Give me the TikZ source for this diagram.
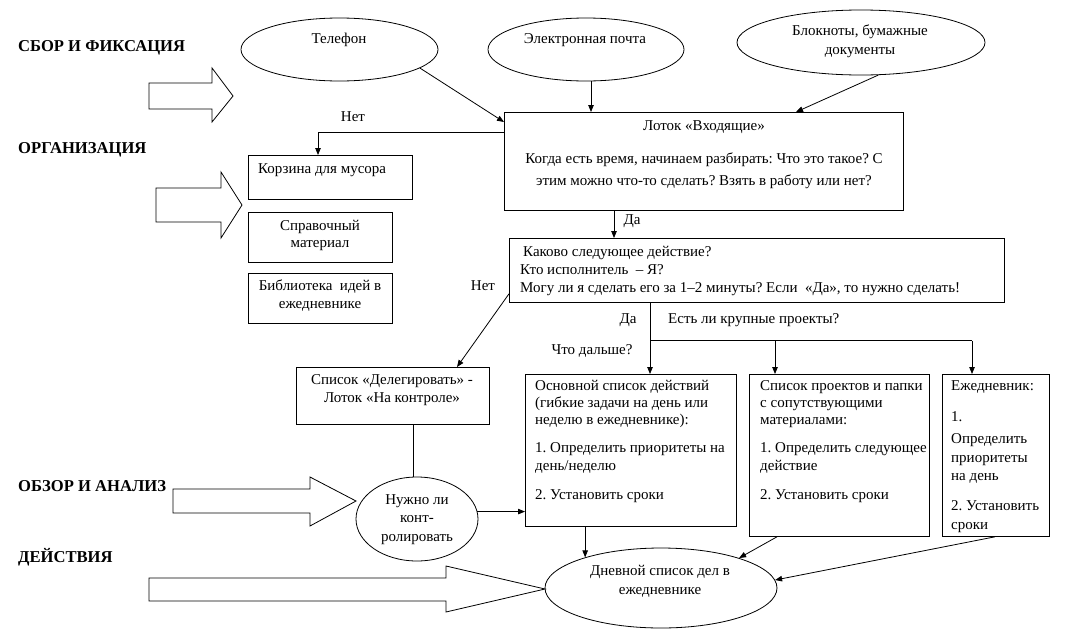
\documentclass[tikz,border=0pt]{standalone}
\usepackage{fontspec}
\setmainfont{Liberation Serif}
\usetikzlibrary{shapes.geometric,arrows.meta,calc}
\frenchspacing
\begin{document}
\begin{tikzpicture}[x=1pt,y=-1pt]
\tikzset{
  ln/.style={line width=0.8pt},
  arr/.style={ln,-{Triangle[length=7pt,width=5.5pt]}},
  box/.style={draw,ln,rectangle,inner sep=0pt,anchor=north west},
  ell/.style={draw,ln,ellipse,inner sep=0pt},
  txt/.style={inner sep=0pt,font=\fontsize{15}{18}\selectfont,text height=0.85em,text depth=0.2em},
  ltxt/.style={txt,anchor=west},
  hdr/.style={inner sep=0pt,anchor=west,font=\fontsize{16.6}{19}\selectfont\bfseries,text height=0.85em,text depth=0.2em},
  blk/.style={draw,ln,fill=white}
}
\useasboundingbox (0,0) rectangle (1065,640);

% headers
\node[hdr] (h1) at (18,48) {СБОР И ФИКСАЦИЯ};
\node[hdr] (h2) at (18,150) {ОРГАНИЗАЦИЯ};
\node[hdr] (h3) at (18,488) {ОБЗОР И АНАЛИЗ};
\node[hdr] (h4) at (18,559) {ДЕЙСТВИЯ};

% block arrows
\draw[blk] (149,83) -- (212,83) -- (212,68) -- (233,96) -- (212,122) -- (212,109) -- (149,109) -- cycle;
\draw[blk] (156,188) -- (221,188) -- (221,172) -- (242,205) -- (221,238) -- (221,222) -- (156,222) -- cycle;
\draw[blk] (173,489) -- (310,489) -- (310,477) -- (356,501) -- (310,526) -- (310,513) -- (173,513) -- cycle;
\draw[blk] (149,578) -- (446,578) -- (446,566) -- (545,589) -- (446,612) -- (446,601) -- (149,601) -- cycle;

% ellipses
\node[ell,minimum width=197pt,minimum height=63pt] (tel) at (339.5,49.5) {};
\node[txt] (tTel) at (339,40) {Телефон};
\node[ell,minimum width=196pt,minimum height=63pt] (mail) at (586,49.5) {};
\node[txt] (tMail) at (585,40) {Электронная почта};
\node[ell,minimum width=248pt,minimum height=65pt] (note) at (861,42.5) {};
\node[txt] (tNote1) at (860,32) {Блокноты, бумажные};
\node[txt] (tNote2) at (860,51) {документы};
\node[ell,minimum width=122pt,minimum height=84pt] (need) at (417,519) {};
\node[txt] (tNeed1) at (417,501) {Нужно ли};
\node[txt] (tNeed2) at (417,519) {конт-};
\node[txt] (tNeed3) at (417,538) {ролировать};
\node[ell,minimum width=232pt,minimum height=80pt] (day) at (661,588) {};
\node[txt] (tDay1) at (660,572) {Дневной список дел в};
\node[txt] (tDay2) at (660,591) {ежедневнике};

% boxes
\node[box,minimum width=399pt,minimum height=98pt] (in) at (504,112) {};
\node[txt] (tIn1) at (704,127) {Лоток «Входящие»};
\node[txt] (tIn2) at (704,160) {Когда есть время, начинаем разбирать: Что это такое? С};
\node[txt] (tIn3) at (704,182) {этим можно что-то сделать? Взять в работу или нет?};

\node[box,minimum width=164pt,minimum height=44pt] (trash) at (248,155) {};
\node[ltxt] (tTrash) at (258,170) {Корзина для мусора};
\node[box,minimum width=144pt,minimum height=50pt] (ref) at (248,212) {};
\node[txt] (tRef1) at (320,227) {Справочный};
\node[txt] (tRef2) at (320,244) {материал};
\node[box,minimum width=144pt,minimum height=50pt] (lib) at (248,273) {};
\node[txt] (tLib1) at (320,287) {Библиотека\ \ идей в};
\node[txt] (tLib2) at (320,305) {ежедневнике};

\node[box,minimum width=495pt,minimum height=64pt] (next) at (509,238) {};
\node[ltxt] (tNext1) at (523,253) {Каково следующее действие?};
\node[ltxt] (tNext2) at (520,271) {Кто исполнитель\ \ – Я?};
\node[ltxt] (tNext3) at (520,289) {Могу ли я сделать его за 1–2 минуты? Если\ \ «Да», то нужно сделать!};

\node[box,minimum width=193pt,minimum height=57pt] (deleg) at (296,367) {};
\node[txt] (tDel1) at (392,381) {Список «Делегировать» -};
\node[txt] (tDel2) at (392,399) {Лоток «На контроле»};

\node[box,minimum width=211pt,minimum height=152pt] (main) at (525,374) {};
\foreach \y/\t [count=\i] in {387/{Основной список действий},404/{(гибкие задачи на день или},421/{неделю в ежедневнике):},449/{1. Определить приоритеты на},467/{день/неделю},496/{2. Установить сроки}}
  \node[ltxt] (tMain\i) at (535,\y) {\t};

\node[box,minimum width=180pt,minimum height=162pt] (proj) at (749,374) {};
\foreach \y/\t [count=\i] in {387/{Список проектов и папки},404/{с сопутствующими},421/{материалами:},449/{1. Определить следующее},467/{действие},496/{2. Установить сроки}}
  \node[ltxt] (tProj\i) at (760,\y) {\t};

\node[box,minimum width=107pt,minimum height=162pt] (diary) at (942,374) {};
\foreach \y/\t [count=\i] in {387/{Ежедневник:},418/{1.},440/{Определить},459/{приоритеты},477/{на день},507/{2. Установить},526/{сроки}}
  \node[ltxt] (tDiary\i) at (951,\y) {\t};

% labels
\node[txt] (lNo1) at (353,118) {Нет};
\node[txt] (lYes1) at (632,221) {Да};
\node[txt] (lNo2) at (483,287) {Нет};
\node[txt] (lYes2) at (628,320) {Да};
\node[ltxt] (lBig) at (668,320) {Есть ли крупные проекты?};
\node[txt] (lWhat) at (592,351) {Что дальше?};

% connectors
\draw[arr] (tel.-13) -- ($(in.north west)+(0,10)$);
\draw[arr] ($(mail.south)+(5,0)$) coordinate (m1) -- (m1 |- in.north);
\draw[arr] (note.-62) -- ($(in.north west)+(292,0)$);
\draw[arr] ($(in.north west)+(0,20)$) -| ($(trash.north west)+(70,0)$);
\draw[arr] ($(in.south west)+(110,0)$) coordinate (d1) -- (d1 |- next.north);
\draw[arr] ($(next.south west)+(0,-9)$) -- ($(deleg.north west)+(161,0)$);
\coordinate (j1) at ($(next.south west)+(141,38)$);
\coordinate (j2) at ($(j1)+(125,0)$);
\coordinate (j3) at ($(j1)+(322,0)$);
\draw[ln] (j1 |- next.south) -- (j1) -- (j3);
\draw[arr] (j1) -- (j1 |- main.north);
\draw[arr] (j2) -- (j2 |- proj.north);
\draw[arr] (j3) -- (j3 |- diary.north);
\draw[ln] ($(deleg.south west)+(117,0)$) coordinate (k1) -- (k1 |- need.north);
\draw[arr] (need.7) -- (need.7 -| main.west);
\draw[arr] (day.158 |- main.south) -- (day.158);
\draw[arr] ($(proj.south west)+(28,0)$) -- (day.21.5);
\draw[arr] ($(diary.south west)+(53,0)$) -- (day.4.5);
\end{tikzpicture}
\end{document}
